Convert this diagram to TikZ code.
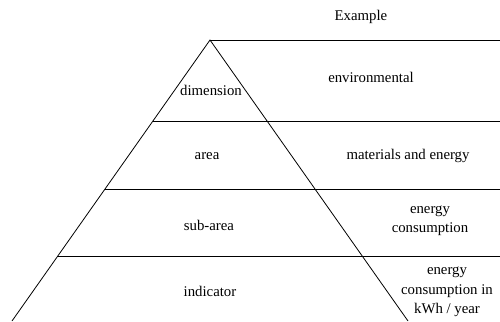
\documentclass[tikz,border=0pt]{standalone}
\usepackage{fontspec}
\setmainfont{Liberation Serif}
\tikzset{
	txt/.style={font=\fontsize{14.8}{19.5}\selectfont, align=center, inner sep=0pt}
}

\begin{document}
\begin{tikzpicture}[x=1pt, y=-1pt, line width=0.8pt]
		\useasboundingbox (0,0) rectangle (500,321);

		\coordinate (apex) at (210,40);
		\coordinate (footL) at (12,321);
		\coordinate (footR) at (408,321);
		\draw (footL) -- (apex) -- (footR);
		\draw (apex) -- (500,40);

		\foreach \y in {121,189,256} {
			\draw ({210 - 0.7046*(\y - 40)}, \y) -- (500, \y);
		}

		\node[txt] (example) at (361,17) {Example};

		\node[txt] (dimension) at (211,90) {dimension};
		\node[txt] (area) at (207,156) {area};
		\node[txt] (subarea) at (209,225) {sub-area};
		\node[txt] (indicator) at (210,291) {indicator};

		\node[txt] (environmental) at (371,77) {environmental};
		\node[txt] (materials) at (408,156) {materials and energy};
		\node[txt] (consumption) at (430,221) {energy\\consumption};
		\node[txt] (kwh) at (447,292) {energy\\consumption in\\kWh / year};
	\end{tikzpicture}
\end{document}
